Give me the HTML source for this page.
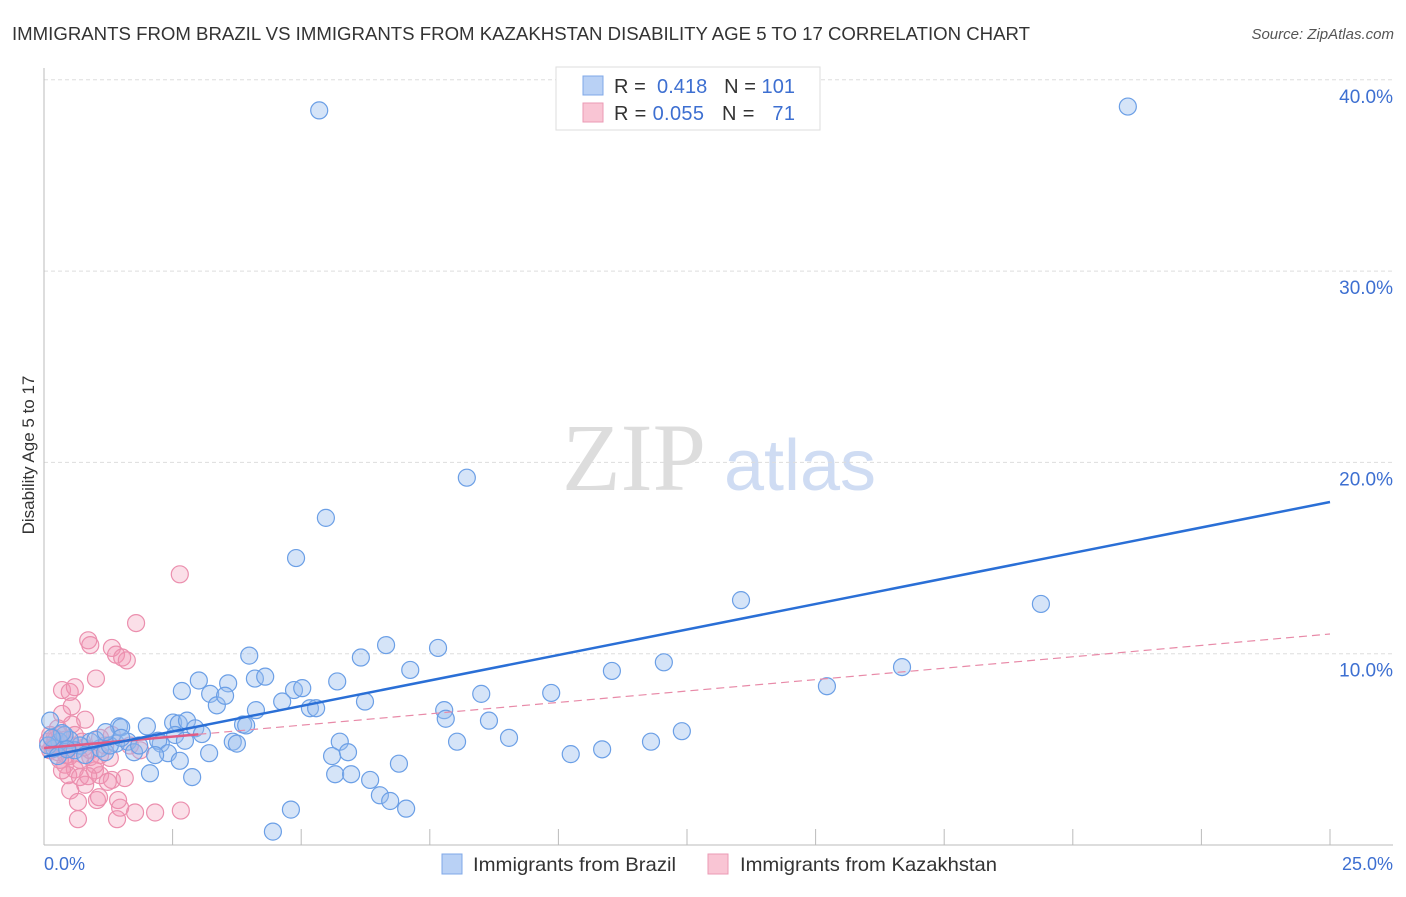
<!DOCTYPE html>
<html><head><meta charset="utf-8"><style>
body{margin:0;background:#fff;font-family:"Liberation Sans",sans-serif;}
</style></head><body>
<svg width="1406" height="892" xmlns="http://www.w3.org/2000/svg" style="font-family:'Liberation Sans',sans-serif">
<text x="12" y="40" font-size="18" fill="#333" textLength="1018" lengthAdjust="spacingAndGlyphs">IMMIGRANTS FROM BRAZIL VS IMMIGRANTS FROM KAZAKHSTAN DISABILITY AGE 5 TO 17 CORRELATION CHART</text>
<text x="1394" y="39" font-size="15" fill="#555" font-style="italic" text-anchor="end">Source: ZipAtlas.com</text>
<g>
<text x="634" y="490" font-size="96" font-family="'Liberation Serif',serif" fill="#ddd" text-anchor="middle">ZIP</text>
<text x="800" y="490" font-size="72" fill="#cfdcf3" text-anchor="middle">atlas</text>
</g>
<g id="grid"></g>
<g id="axes"></g>
<g id="pts"></g>
<g id="lines"></g>
<text x="34" y="455" font-size="17" fill="#333" text-anchor="middle" transform="rotate(-90 34 455)">Disability Age 5 to 17</text>
<text x="44" y="870" font-size="18" fill="#3d6fd1">0.0%</text>
<text x="1393" y="870" font-size="18" fill="#3d6fd1" text-anchor="end">25.0%</text>
<g>
<rect x="556" y="67" width="264" height="63" fill="#fff" stroke="#ddd"/>
<rect x="583" y="76" width="20" height="19" fill="#b9d1f5" stroke="#7fa8e8"/>
<rect x="583" y="103" width="20" height="19" fill="#f9c5d4" stroke="#eb9ab4"/>
<text x="614" y="93" font-size="20" fill="#333" textLength="181" lengthAdjust="spacing">R = <tspan fill="#3d6fd1">&#160;0.418</tspan>&#160;&#160;&#160;N = <tspan fill="#3d6fd1">101</tspan></text>
<text x="614" y="120" font-size="20" fill="#333" textLength="181" lengthAdjust="spacing">R = <tspan fill="#3d6fd1">0.055</tspan>&#160;&#160;&#160;N = <tspan fill="#3d6fd1">&#160;&#160;71</tspan></text>
</g>
<g>
<rect x="442" y="854" width="20" height="20" fill="#b9d1f5" stroke="#7fa8e8"/>
<text x="473" y="871" font-size="19.5" fill="#333" textLength="203" lengthAdjust="spacingAndGlyphs">Immigrants from Brazil</text>
<rect x="708" y="854" width="20" height="20" fill="#f9c5d4" stroke="#eb9ab4"/>
<text x="740" y="871" font-size="19.5" fill="#333" textLength="257" lengthAdjust="spacingAndGlyphs">Immigrants from Kazakhstan</text>
</g>
</svg>
<script>
const yTicks=[10,20,30,40];
const yTickLabels=["10.0%","20.0%","30.0%","40.0%"];
const xTicks=[2.5,5,7.5,10,12.5,15,17.5,20,22.5,25];
const brazilX=[5.35,21.07,8.22,5.48,4.9,13.55,19.38,3.99,6.16,12.05,7.12,11.04,16.68,4.1,4.3,3.01,3.58,2.68,3.23,4.86,5.02,5.7,6.65,7.66,15.22,8.5,9.86,3.36,3.52,6.24,4.63,5.17,5.29,7.78,7.81,8.65,12.4,4.12,3.87,3.93,2.51,2.62,2.78,2.94,1.46,1.5,2.0,3.07,5.75,3.67,3.75,9.04,8.03,11.8,10.85,10.24,5.6,5.91,3.21,2.27,2.22,1.4,1.63,2.41,2.16,1.75,1.85,2.64,2.06,2.88,5.66,5.97,6.34,6.9,6.53,6.73,7.04,4.8,4.45,1.09,0.9,0.7,0.5,0.3,0.2,0.12,0.4,0.6,1.19,1.28,0.8,1.0,2.55,2.74,0.35,0.08,0.27,0.15,0.45,1.5,1.2];
const brazilY=[38.4,38.6,19.2,17.1,15.0,12.8,12.6,9.9,9.8,9.55,9.15,9.1,9.3,8.7,8.8,8.6,8.45,8.05,7.9,8.1,8.2,8.55,10.45,10.3,8.3,7.9,7.95,7.3,7.8,7.5,7.5,7.15,7.15,7.05,6.6,6.5,5.95,7.05,6.3,6.25,6.4,6.35,6.5,6.1,6.2,6.15,6.2,5.8,5.4,5.4,5.3,5.6,5.4,5.4,5.0,4.75,4.65,4.85,4.8,5.3,5.45,5.3,5.4,4.8,4.7,4.85,5.2,4.4,3.75,3.55,3.7,3.7,3.4,4.25,2.6,2.3,1.9,1.85,0.7,5.05,5.4,5.2,5.5,5.4,5.05,6.5,5.75,4.95,4.85,5.2,4.7,5.5,5.75,5.45,5.85,5.2,4.65,5.6,5.0,5.6,5.9];
const kazX=[2.64,1.79,0.86,0.9,1.32,1.4,1.52,1.61,1.01,0.35,0.5,0.6,0.54,0.35,0.8,0.54,0.31,0.41,0.21,0.12,0.27,0.5,0.7,0.9,1.09,1.28,0.41,0.6,0.47,0.7,0.99,1.09,0.8,1.32,1.57,0.51,1.03,1.44,0.66,1.07,1.48,0.66,1.42,1.77,2.16,2.66,0.21,0.31,0.12,0.16,0.08,0.23,0.43,0.54,0.78,0.9,1.19,0.27,0.6,0.74,1.32,0.99,0.86,0.35,1.67,1.87,1.09,1.24,0.43,0.31,0.25];
const kazY=[14.15,11.6,10.7,10.45,10.3,9.95,9.8,9.65,8.7,8.1,8.0,8.25,7.25,6.85,6.55,6.3,5.75,5.5,5.2,4.95,4.85,4.65,4.45,4.6,4.7,4.55,4.2,3.95,3.65,3.55,3.9,3.65,3.15,3.4,3.5,2.85,2.35,2.35,2.25,2.5,1.95,1.35,1.35,1.7,1.7,1.8,5.6,5.3,5.75,5.1,5.4,5.5,5.05,5.2,5.1,4.95,5.2,6.1,5.75,5.4,5.75,4.2,3.6,3.9,5.2,4.95,5.6,3.3,4.7,4.45,5.3];
const brazilTrend=[4.6,17.93];
const kazTrend=[5.07,11.03];
const kazSolidEnd=3.0;
const NS='http://www.w3.org/2000/svg';
const X=v=>44+v*51.44, Y=v=>845-v*19.13;
function mk(t,a,p){const e=document.createElementNS(NS,t);for(const k in a)e.setAttribute(k,a[k]);p.appendChild(e);return e;}
const grid=document.getElementById('grid'),axes=document.getElementById('axes'),pts=document.getElementById('pts'),lines=document.getElementById('lines');
yTicks.forEach((t,i)=>{
 const l=mk('line',{x1:44,x2:1393,y1:Y(t),y2:Y(t),stroke:'#ddd','stroke-dasharray':'4,3'},grid);
 
 
 const tx=mk('text',{x:1393,y:Y(t)+23,'font-size':19,fill:'#3d6fd1','text-anchor':'end'},grid);
 tx.textContent=yTickLabels[i];
 
 
});
let a=mk('line',{x1:44,x2:44,y1:68,y2:845,stroke:'#bbb'},axes);


a=mk('line',{x1:44,x2:1393,y1:845,y2:845,stroke:'#bbb'},axes);


xTicks.forEach(t=>{
 const l=mk('line',{x1:X(t),x2:X(t),y1:829,y2:845,stroke:'#bbb'},axes);
 
 
});
kazX.forEach((x,i)=>{
 const c=mk('circle',{cx:X(x),cy:Y(kazY[i]),r:8.5,fill:'rgba(242,150,180,0.3)',stroke:'#eb8fae','stroke-width':1.2},pts);
 
 
});
brazilX.forEach((x,i)=>{
 const c=mk('circle',{cx:X(x),cy:Y(brazilY[i]),r:8.5,fill:'rgba(150,188,238,0.4)',stroke:'#6b9fe6','stroke-width':1.2},pts);
 
 
});
const kv=x=>kazTrend[0]+(kazTrend[1]-kazTrend[0])*x/25;
let ln=mk('line',{x1:X(kazSolidEnd),y1:Y(kv(kazSolidEnd)),x2:X(25),y2:Y(kazTrend[1]),stroke:'#e88aa8','stroke-width':1.2,'stroke-dasharray':'8,5'},lines);


ln=mk('line',{x1:X(0),y1:Y(kazTrend[0]),x2:X(kazSolidEnd),y2:Y(kv(kazSolidEnd)),stroke:'#e05c86','stroke-width':2.5},lines);


ln=mk('line',{x1:X(0),y1:Y(brazilTrend[0]),x2:X(25),y2:Y(brazilTrend[1]),stroke:'#2a6fd6','stroke-width':2.5},lines);


</script>
</body></html>
